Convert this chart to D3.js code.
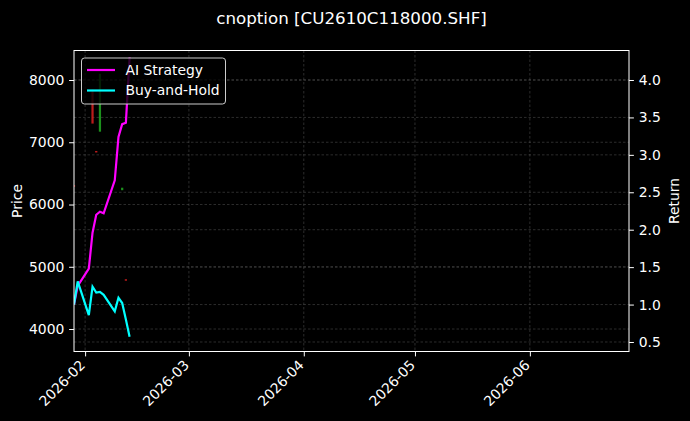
<!DOCTYPE html>
<html>
  <head>
    <meta charset="utf-8">
    <title>cnoption</title>
    <script src="https://cdn.jsdelivr.net/npm/d3@7"></script>
    <style>
      body { margin: 0; background-color: #000; }
      svg { display: block; background-color: #000; font-family: "DejaVu Sans", sans-serif; }
    </style>
  </head>
  <body>
    <svg width="690" height="421"></svg>
    <script>
      // trading days shown on the chart
      var dates = ["2026-01-29","2026-01-30","2026-02-02","2026-02-03","2026-02-04","2026-02-05",
                   "2026-02-06","2026-02-09","2026-02-10","2026-02-11","2026-02-12","2026-02-13"];
      var aiReturn = [1.00, 1.25, 1.48, 1.96, 2.20, 2.24, 2.22, 2.66, 3.24, 3.41, 3.43, 4.30];
      var bhReturn = [1.00, 1.31, 0.86, 1.24, 1.16, 1.17, 1.13, 0.91, 1.09, 1.02, 0.80, 0.57];

      // candles (only the days that traded)
      var candleDates = ["2026-01-29","2026-02-03","2026-02-04","2026-02-05","2026-02-11","2026-02-12"];
      var candleOpen  = [6310, 7850, 6860, 7170, 6230, 4800];
      var candleClose = [6295, 7300, 6845, 8100, 6270, 4785];

      var priceTicks  = [4000, 5000, 6000, 7000, 8000];
      var returnTicks = [0.5, 1.0, 1.5, 2.0, 2.5, 3.0, 3.5, 4.0];
      var monthTicks  = ["2026-02-01","2026-03-01","2026-04-01","2026-05-01","2026-06-01"];

      var parse = d3.utcParse("%Y-%m-%d");
      var m = {left: 74, right: 629, top: 50.5, bottom: 351.5};
      var svg = d3.select("svg");
      var fs = "13.9px";

      var x = d3.scaleUtc()
        .domain([parse("2026-01-29"), new Date(Date.UTC(2026, 5, 27, 18))])
        .range([m.left, m.right]);
      var yP = d3.scaleLinear().domain([3639, 8474]).range([m.bottom, m.top]);
      var yR = d3.scaleLinear().domain([0.373, 4.394]).range([m.bottom, m.top]);

      svg.append("text")
        .attr("x", (m.left + m.right) / 2).attr("y", 24)
        .attr("text-anchor", "middle").attr("fill", "#fff")
        .style("font-size", "16.7px")
        .text("cnoption [CU2610C118000.SHF]");

      svg.append("clipPath").attr("id", "clip").append("rect")
        .attr("x", m.left).attr("y", m.top)
        .attr("width", m.right - m.left).attr("height", m.bottom - m.top);

      //GRID
      var grid = svg.append("g")
        .attr("stroke", "#888").attr("stroke-opacity", 0.55)
        .attr("stroke-width", 0.6).attr("stroke-dasharray", "2.5,2");
      grid.selectAll(".gx").data(monthTicks).enter().append("line")
        .attr("x1", function(d) { return x(parse(d)); })
        .attr("x2", function(d) { return x(parse(d)); })
        .attr("y1", m.top).attr("y2", m.bottom);
      grid.selectAll(".gp").data(priceTicks).enter().append("line")
        .attr("x1", m.left).attr("x2", m.right)
        .attr("y1", function(d) { return yP(d); })
        .attr("y2", function(d) { return yP(d); });
      grid.selectAll(".gr").data(returnTicks).enter().append("line")
        .attr("x1", m.left).attr("x2", m.right)
        .attr("y1", function(d) { return yR(d); })
        .attr("y2", function(d) { return yR(d); });

      var plot = svg.append("g").attr("clip-path", "url(#clip)");

      //CANDLES
      var dayW = x(parse("2026-02-02")) - x(parse("2026-02-01"));
      plot.selectAll(".candle").data(candleDates).enter().append("rect")
        .attr("x", function(d) { return x(parse(d)) - dayW * 0.3; })
        .attr("width", dayW * 0.6)
        .attr("y", function(d, i) { return yP(Math.max(candleOpen[i], candleClose[i])); })
        .attr("height", function(d, i) {
          return Math.max(1.5, Math.abs(yP(candleOpen[i]) - yP(candleClose[i])));
        })
        .attr("fill", function(d, i) { return candleClose[i] >= candleOpen[i] ? "#1fa01f" : "#d01e1e"; })
        .attr("opacity", 0.9);

      //LINES
      var lineAI = d3.line()
        .x(function(d, i) { return x(parse(dates[i])); })
        .y(function(d) { return yR(d); });
      plot.append("path").datum(aiReturn).attr("d", lineAI)
        .attr("fill", "none").attr("stroke", "#ff00ff").attr("stroke-width", 2.2);
      plot.append("path").datum(bhReturn).attr("d", lineAI)
        .attr("fill", "none").attr("stroke", "#00ffff").attr("stroke-width", 2.2);

      //AXES
      var axB = svg.append("g").attr("transform", "translate(0," + m.bottom + ")")
        .call(d3.axisBottom(x).tickValues(monthTicks.map(parse)).tickSize(4.9).tickFormat(d3.utcFormat("%Y-%m")));
      axB.selectAll("text")
        .attr("text-anchor", "end")
        .attr("x", 0).attr("y", 0).attr("dy", 0)
        .attr("transform", "translate(0.5,14.5) rotate(-45)");
      var axL = svg.append("g").attr("transform", "translate(" + m.left + ",0)")
        .call(d3.axisLeft(yP).tickValues(priceTicks).tickSize(4.9).tickFormat(d3.format("d")));
      var axR = svg.append("g").attr("transform", "translate(" + m.right + ",0)")
        .call(d3.axisRight(yR).tickValues(returnTicks).tickSize(4.9).tickFormat(d3.format(".1f")));
      [axB, axL, axR].forEach(function(a) {
        a.select(".domain").remove();
        a.selectAll("line").attr("stroke", "#fff").attr("stroke-width", 1);
        a.selectAll("text").attr("fill", "#fff")
          .style("font-size", fs).style("font-family", "DejaVu Sans");
      });
      axL.selectAll("text").attr("x", -9.7);
      axR.selectAll("text").attr("x", 9.7);

      svg.append("rect")
        .attr("x", m.left).attr("y", m.top)
        .attr("width", m.right - m.left).attr("height", m.bottom - m.top)
        .attr("fill", "none").attr("stroke", "#fff").attr("stroke-width", 1);

      svg.append("text")
        .attr("transform", "translate(22," + (m.top + m.bottom) / 2 + ") rotate(-90)")
        .attr("text-anchor", "middle").attr("fill", "#fff").style("font-size", fs)
        .text("Price");
      svg.append("text")
        .attr("transform", "translate(679," + (m.top + m.bottom) / 2 + ") rotate(-90)")
        .attr("text-anchor", "middle").attr("fill", "#fff").style("font-size", fs)
        .text("Return");

      //LEGEND
      var legendNames = ["AI Strategy", "Buy-and-Hold"];
      var legendColors = ["#ff00ff", "#00ffff"];
      var lg = svg.append("g").attr("transform", "translate(81.5,58)");
      lg.append("rect").attr("width", 144).attr("height", 46).attr("rx", 3)
        .attr("fill", "#000").attr("fill-opacity", 0.8)
        .attr("stroke", "#ccc").attr("stroke-width", 1);
      var items = lg.selectAll(".item").data(legendNames).enter().append("g")
        .attr("transform", function(d, i) { return "translate(0," + (12 + i * 20.5) + ")"; });
      items.append("line").attr("x1", 5.5).attr("x2", 33.5)
        .attr("stroke", function(d, i) { return legendColors[i]; }).attr("stroke-width", 2.2);
      items.append("text").attr("x", 44).attr("dy", "0.35em")
        .attr("fill", "#fff").style("font-size", fs)
        .text(function(d) { return d; });
    </script>
  </body>
</html>
